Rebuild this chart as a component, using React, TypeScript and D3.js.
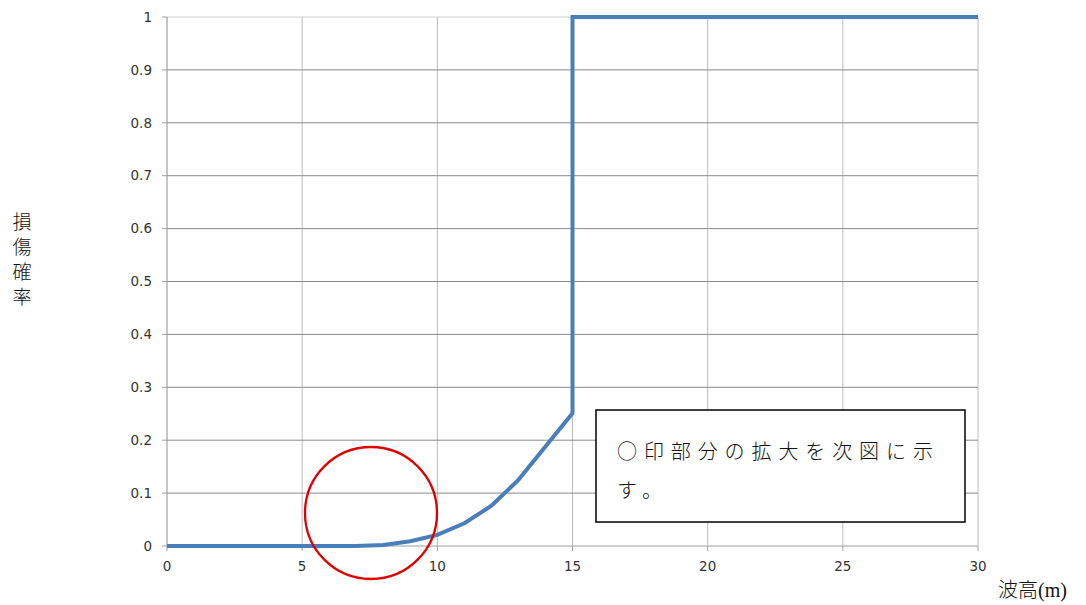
import React from "react";
import * as d3 from "d3";

const waveHeights = [0, 1, 2, 3, 4, 5, 6, 7, 8, 9, 10, 11, 12, 13, 14, 15, 15, 30];
const damageProb = [0, 0, 0, 0, 0, 0, 0, 0, 0.002, 0.009, 0.021, 0.043, 0.076, 0.125, 0.188, 0.251, 1, 1];
const xTicks = [0, 5, 10, 15, 20, 25, 30];
const yTicks = [0, 0.1, 0.2, 0.3, 0.4, 0.5, 0.6, 0.7, 0.8, 0.9, 1];
const yLabelChars = ["損", "傷", "確", "率"];
const noteLines = ["○印部分の拡大を次図に示", "す。"];
const xTitleMain = "波高";
const xTitleUnit = "(m)";

export default function App() {
  const W = 1086, H = 605;
  const x = d3.scaleLinear().domain([0, 30]).range([167, 978]);
  const y = d3.scaleLinear().domain([0, 1]).range([546, 17]);
  const pts = waveHeights.map((w, i) => [w, damageProb[i]] as [number, number]);
  const line = d3.line<[number, number]>().x(d => x(d[0])).y(d => y(d[1]));
  const fmt = (v: number) => (v === 0 || v === 1 ? String(v) : v.toFixed(1));
  return (
    <svg width={W} height={H} style={{ position: "absolute", left: 0, top: 0, background: "#fff" }}>
      {xTicks.filter(t => t > 0).map(t => (
        <line key={"vx" + t} x1={x(t)} x2={x(t)} y1={y(1)} y2={y(0)} stroke="#bdbdbd" strokeWidth={1} />
      ))}
      {yTicks.filter(t => t > 0).map(t => (
        <line key={"hy" + t} x1={x(0)} x2={x(30)} y1={y(t)} y2={y(t)} stroke={t === 1 ? "#d0d0d0" : "#8a8a8a"} strokeWidth={1} />
      ))}
      <line x1={x(0)} x2={x(0)} y1={y(1)} y2={y(0)} stroke="#a0a0a0" strokeWidth={1.2} />
      <line x1={x(0)} x2={x(30)} y1={y(0)} y2={y(0)} stroke="#a0a0a0" strokeWidth={1.2} />
      {yTicks.map(t => (
        <g key={"yt" + t}>
          <line x1={x(0) - 5} x2={x(0)} y1={y(t)} y2={y(t)} stroke="#a0a0a0" />
          <text x={152} y={y(t)} dy="0.35em" textAnchor="end" fontFamily="'DejaVu Sans', sans-serif" fontSize={13.5} fill="#333">{fmt(t)}</text>
        </g>
      ))}
      {xTicks.map(t => (
        <g key={"xt" + t}>
          <line x1={x(t)} x2={x(t)} y1={y(0)} y2={y(0) + 5} stroke="#a0a0a0" />
          <text x={x(t)} y={571} textAnchor="middle" fontFamily="'DejaVu Sans', sans-serif" fontSize={13.5} fill="#333">{t}</text>
        </g>
      ))}
      <path d={line(pts) || ""} fill="none" stroke="#4a7ebb" strokeWidth={4} strokeLinejoin="miter" />
      <circle cx={371} cy={513} r={66} fill="none" stroke="#e00000" strokeWidth={2.3} />
      <rect x={596} y={410} width={369} height={112} fill="#fff" stroke="#000" strokeWidth={1.5} />
      {noteLines.map((s, i) => (
        <text key={"n" + i} x={617} y={459 + i * 39} fontFamily="'Noto Sans CJK JP', sans-serif" fontWeight={300} fontSize={20} letterSpacing={6.9} fill="#111">{s}</text>
      ))}
      {yLabelChars.map((c, i) => (
        <text key={"yl" + i} x={22} y={229 + i * 25} textAnchor="middle" fontFamily="'Noto Sans CJK JP', sans-serif" fontWeight={300} fontSize={19} fill="#111">{c}</text>
      ))}
      <text x={998} y={597} fontSize={20} fill="#111">
        <tspan fontFamily="'Noto Sans CJK JP', sans-serif" fontWeight={300}>{xTitleMain}</tspan>
        <tspan fontFamily="'Liberation Serif', serif">{xTitleUnit}</tspan>
      </text>
    </svg>
  );
}
